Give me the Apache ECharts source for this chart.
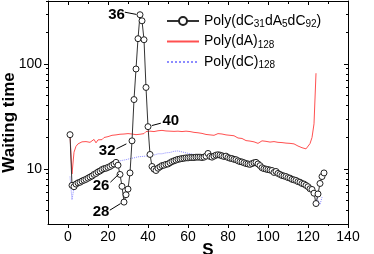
<!DOCTYPE html>
<html><head><meta charset="utf-8">
<script src="https://cdn.jsdelivr.net/npm/echarts@6/dist/echarts.min.js"></script>
<style>html,body{margin:0;padding:0;background:#fff}#c{width:374px;height:254px}</style>
</head><body><div id="c"></div>
<script>
// Poly(dC31dA5dC92), s = 1..128
const BLACK = [
  21.3, 7.0, 6.8, 7.2, 7.4, 7.5, 7.7, 7.85, 8.0, 8.2,
  8.4, 8.6, 8.9, 9.1, 9.4, 9.6, 9.9, 10.1, 10.2, 10.4,
  10.6, 10.9, 11.2, 11.6, 10.9, 8.9, 6.85, 4.85, 5.7, 6.45,
  9.2, 18.6, 46, 90, 175, 296, 259, 171, 60, 25.4,
  13.8, 10.6, 10.0, 9.7, 10.2, 10.5, 10.8, 10.9, 11.1, 11.2,
  11.5, 11.8, 12.0, 12.2, 12.4, 12.5, 12.6, 12.7, 12.8, 12.8,
  12.9, 12.9, 12.9, 13.0, 13.0, 13.0, 12.9, 13.0, 13.3, 14.1,
  13.2, 13.0, 13.3, 13.6, 13.7, 13.6, 13.4, 13.2, 13.3, 12.9,
  12.7, 12.6, 12.4, 12.3, 12.0, 11.8, 11.7, 11.5, 11.3, 11.2,
  11.1, 11.3, 11.5, 11.6, 11.2, 10.8, 10.3, 10.1, 10.0, 9.9,
  9.8, 9.7, 9.3, 9.5, 9.1, 8.9, 8.7, 8.6, 8.5, 8.3,
  8.2, 8.0, 7.9, 7.8, 7.6, 7.5, 7.3, 7.2, 7.0, 6.8,
  6.5, 6.4, 5.9, 4.7, 5.8, 7.3, 8.5, 9.2
];
// Poly(dA)128, s = 1..124
const RED = [
  21.3, 9.0, 14.5, 16.5, 17.4, 17.8, 18.2, 17.6, 18.3, 18.6,
  18.0, 18.8, 19.2, 17.8, 19.0, 19.6, 19.1, 20.0, 19.5, 20.4,
  19.8, 21.0, 20.5, 21.2, 20.6, 21.5, 20.8, 21.6, 21.0, 21.8,
  21.2, 21.6, 22.2, 21.3, 22.0, 21.5, 22.4, 21.8, 22.8, 22.2,
  23.0, 22.4, 22.8, 22.2, 23.2, 22.6, 23.4, 22.8, 23.1, 22.5,
  23.0, 22.4, 22.9, 22.2, 23.0, 22.5, 22.8, 23.4, 23.0, 22.3,
  22.8, 22.0, 22.4, 21.8, 22.2, 21.5, 21.9, 21.0, 21.4, 21.8,
  21.2, 21.6, 21.0, 21.5, 21.8, 21.3, 21.6, 20.9, 21.2, 20.6,
  21.0, 20.4, 20.8, 20.3, 19.8, 19.2, 19.6, 19.0, 18.7, 19.1,
  18.5, 18.8, 18.2, 17.9, 17.6, 18.2, 18.6, 18.0, 18.4, 18.7,
  18.1, 17.8, 18.3, 17.7, 18.0, 17.5, 17.9, 17.4, 17.7, 17.2,
  17.6, 17.1, 17.4, 16.9, 16.6, 16.3, 16.0, 15.8, 15.6, 16.2,
  17.5, 20.0, 27, 82
];
// Poly(dC)128, s = 1..127
const BLUE = [
  8.5, 5.1, 6.7, 7.0, 7.3, 7.6, 7.9, 8.1, 8.3, 8.6,
  8.8, 9.0, 9.3, 9.4, 9.6, 9.8, 9.9, 10.1, 10.3, 10.5,
  10.8, 11.0, 11.3, 11.6, 11.9, 12.0, 12.1, 12.2, 12.3, 12.4,
  12.6, 12.7, 12.8, 12.9, 13.1, 13.3, 13.2, 13.4, 13.3, 13.5,
  13.6, 13.7, 13.6, 13.8, 14.0, 14.1, 14.0, 14.2, 14.3, 14.5,
  14.4, 14.6, 14.8, 14.7, 14.9, 14.8, 14.6, 14.5, 14.3, 14.2,
  14.0, 13.9, 13.8, 13.6, 13.5, 13.4, 13.5, 13.4, 13.6, 13.9,
  13.7, 13.6, 13.8, 13.9, 14.0, 13.9, 13.7, 13.5, 13.4, 13.2,
  13.0, 12.8, 12.7, 12.5, 12.3, 12.1, 11.9, 11.8, 11.6, 11.5,
  11.5, 11.6, 11.7, 11.5, 11.2, 10.8, 10.5, 10.3, 10.2, 10.1,
  9.9, 9.8, 9.6, 9.5, 9.3, 9.1, 9.0, 8.8, 8.7, 8.5,
  8.4, 8.2, 8.1, 7.9, 7.8, 7.6, 7.5, 7.3, 7.2, 7.0,
  6.8, 6.6, 6.3, 5.9, 5.0, 4.6, 5.4
];
const NAMES = ['Poly(dC31dA5dC92)', 'Poly(dA)128', 'Poly(dC)128'];
const X_LABELS = [0, 20, 40, 60, 80, 100, 120, 140];
const X_MINOR = [10, 30, 50, 70, 90, 110, 130];
const Y_MINOR = [4, 5, 6, 7, 8, 9, 20, 30, 40, 50, 60, 70, 80, 90, 200, 300, 400];
// annotations: [text, textS, textV, arrowFromS, arrowFromV, arrowToS, arrowToV]
const NOTES = [
  ['36', 24.3, 297, 28.4, 313, 34.2, 298],
  ['40', 51.4, 28.6, 46.4, 27.4, 41.9, 26.0],
  ['32', 19.6, 15.0, 24.2, 15.6, 29.2, 17.4],
  ['26', 16.5, 6.9, 21.2, 7.5, 25.5, 9.0],
  ['28', 16.5, 3.91, 20.9, 4.06, 26.3, 4.70]
];

const FONT = 'Liberation Sans, Arial, sans-serif';
const XMIN = -10, XMAX = 140, YMIN = 3, YMAX = 400;
const toPairs = arr => arr.map((v, i) => [i + 1, v]);
const LEGEND_RICH = {
  'Poly(dC31dA5dC92)': '{n|Poly(dC}{s|31}{n|dA}{s|5}{n|dC}{s|92}{n|)}',
  'Poly(dA)128': '{n|Poly(dA)}{s|128}',
  'Poly(dC)128': '{n|Poly(dC)}{s|128}'
};
const black = {color: '#000'};
const axLine = {show: true, onZero: false, lineStyle: {color: '#000', width: 1}};
const tickLine = (x1, y1, x2, y2) => ({type: 'line', shape: {x1, y1, x2, y2}, style: {stroke: '#000', lineWidth: 1}});
const crisp = v => Math.round(v - 0.5) + 0.5;

const chart = echarts.init(document.getElementById('c'), null, {renderer: 'canvas'});
chart.setOption({
  animation: false,
  backgroundColor: '#fff',
  grid: {left: 48, right: 26, top: 1, bottom: 30, containLabel: false, outerBoundsMode: 'none'},
  legend: {
    orient: 'vertical', left: 161, top: 9, itemWidth: 32, itemHeight: 10, itemGap: 5,
    data: [
      {name: NAMES[0]},
      {name: NAMES[1], itemStyle: {opacity: 0}},
      {name: NAMES[2], itemStyle: {opacity: 0}}
    ],
    formatter: n => LEGEND_RICH[n],
    textStyle: {
      fontFamily: FONT, color: '#000',
      rich: {
        n: {fontSize: 14, fontFamily: FONT, color: '#000'},
        s: {fontSize: 10, fontFamily: FONT, color: '#000', padding: [7, 0, 0, 0]}
      }
    }
  },
  xAxis: [
    {type: 'value', min: XMIN, max: XMAX, position: 'bottom', splitLine: {show: false},
      axisLine: axLine,
      axisTick: {show: true, length: 4, customValues: X_LABELS, lineStyle: black},
      axisLabel: {show: true, customValues: X_LABELS, fontSize: 14, fontFamily: FONT, color: '#000', margin: 6},
      name: 'S', nameLocation: 'middle', nameGap: 18, nameMoveOverlap: false,
      nameTextStyle: {fontSize: 17, fontWeight: 'bold', fontFamily: FONT, color: '#000', padding: [0, 0, 0, 20]}},
    {type: 'value', min: XMIN, max: XMAX, position: 'top', splitLine: {show: false},
      axisLine: axLine,
      axisTick: {show: true, inside: true, length: 4, customValues: X_LABELS, lineStyle: black},
      axisLabel: {show: false}}
  ],
  yAxis: [
    {type: 'log', logBase: 10, min: YMIN, max: YMAX, position: 'left', splitLine: {show: false},
      axisLine: axLine,
      axisTick: {show: true, length: 4, lineStyle: black},
      axisLabel: {show: true, showMinLabel: false, showMaxLabel: false, fontSize: 14, fontFamily: FONT, color: '#000', margin: 6},
      name: 'Waiting time', nameLocation: 'middle', nameGap: 30, nameMoveOverlap: false,
      nameTextStyle: {fontSize: 17, fontWeight: 'bold', fontFamily: FONT, color: '#000', padding: [0, 20, 0, 0]}},
    {type: 'log', logBase: 10, min: YMIN, max: YMAX, position: 'right', splitLine: {show: false},
      axisLine: axLine,
      axisTick: {show: true, inside: true, length: 4, lineStyle: black},
      axisLabel: {show: false}}
  ],
  series: [
    {
      name: NAMES[1], type: 'line', data: toPairs(RED), symbol: 'none', z: 2,
      lineStyle: {color: '#ff5050', width: 1}, itemStyle: {color: '#ff5050'}
    },
    {
      name: NAMES[2], type: 'line', data: toPairs(BLUE), symbol: 'none', z: 2,
      lineStyle: {color: '#8c8cff', width: 1, type: 'dotted'}, itemStyle: {color: '#8c8cff'}
    },
    {
      name: NAMES[0], type: 'line', data: toPairs(BLACK), z: 3,
      symbol: 'circle', symbolSize: 6, showAllSymbol: true,
      lineStyle: {color: '#333', width: 1},
      itemStyle: {color: '#fff', borderColor: '#222', borderWidth: 1},
      markLine: {
        silent: true, animation: false, symbol: ['none', 'arrow'], symbolSize: [0, 7],
        lineStyle: {color: '#000', width: 1, type: 'solid'}, label: {show: false},
        data: NOTES.map(n => [{coord: [n[3], n[4]]}, {coord: [n[5], n[6]]}])
      },
      markPoint: {
        silent: true, animation: false, symbol: 'circle', symbolSize: 0,
        label: {show: true, position: 'inside', formatter: p => p.name,
          fontSize: 15, fontWeight: 'bold', fontFamily: FONT, color: '#000'},
        data: NOTES.map(n => ({name: n[0], coord: [n[1], n[2]]}))
      }
    },
    {
      // minor ticks on the log axes (left outward, right inward)
      type: 'custom', silent: true, clip: false, z: 5,
      data: Y_MINOR.map(v => [XMIN, v]),
      renderItem: (params, api) => {
        const v = api.value(1);
        const l = api.coord([XMIN, v]), r = api.coord([XMAX, v]);
        const yl = crisp(l[1]);
        return {type: 'group', children: [
          tickLine(l[0] - 2, yl, l[0], yl),
          tickLine(r[0] - 2, yl, r[0], yl)
        ]};
      }
    },
    {
      // minor ticks on the s axes (bottom outward, top inward)
      type: 'custom', silent: true, clip: false, z: 5,
      data: X_MINOR.map(s => [s, YMIN]),
      renderItem: (params, api) => {
        const s = api.value(0);
        const b = api.coord([s, YMIN]), t = api.coord([s, YMAX]);
        const x = crisp(b[0]);
        return {type: 'group', children: [
          tickLine(x, b[1], x, b[1] + 2),
          tickLine(x, t[1], x, t[1] + 3)
        ]};
      }
    }
  ]
});
</script></body></html>
